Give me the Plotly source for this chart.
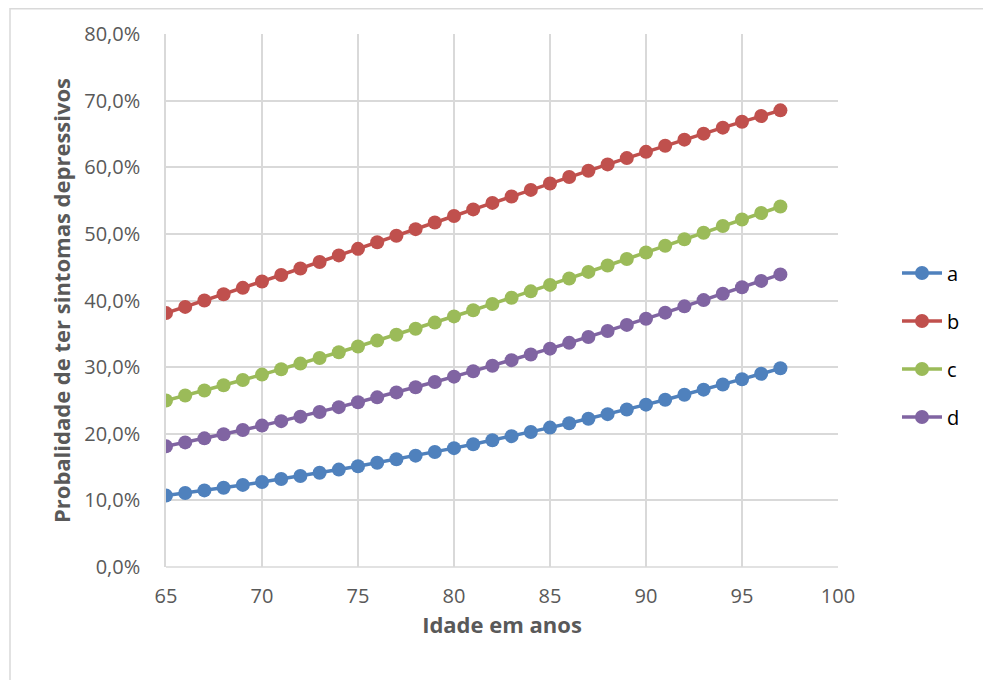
import plotly.graph_objects as go

ages = list(range(65, 98))

serie_a = [0.1072, 0.1110, 0.1150, 0.1190, 0.1232, 0.1276, 0.1320, 0.1366, 0.1414, 0.1462,
           0.1512, 0.1564, 0.1617, 0.1671, 0.1727, 0.1784, 0.1842, 0.1902, 0.1964, 0.2027,
           0.2092, 0.2158, 0.2225, 0.2294, 0.2365, 0.2437, 0.2511, 0.2586, 0.2662, 0.2740,
           0.2819, 0.2900, 0.2982]
serie_b = [0.3811, 0.3904, 0.3999, 0.4094, 0.4190, 0.4286, 0.4383, 0.4480, 0.4578, 0.4677,
           0.4775, 0.4874, 0.4972, 0.5071, 0.5170, 0.5268, 0.5367, 0.5465, 0.5562, 0.5660,
           0.5756, 0.5853, 0.5948, 0.6043, 0.6137, 0.6231, 0.6323, 0.6414, 0.6504, 0.6594,
           0.6682, 0.6769, 0.6854]
serie_c = [0.2499, 0.2574, 0.2650, 0.2728, 0.2807, 0.2888, 0.2969, 0.3053, 0.3137, 0.3223,
           0.3309, 0.3398, 0.3487, 0.3577, 0.3668, 0.3761, 0.3854, 0.3948, 0.4042, 0.4137,
           0.4234, 0.4331, 0.4429, 0.4525, 0.4623, 0.4721, 0.4822, 0.4919, 0.5018, 0.5118,
           0.5216, 0.5313, 0.5411]
serie_d = [0.1811, 0.1870, 0.1931, 0.1993, 0.2057, 0.2122, 0.2189, 0.2257, 0.2327, 0.2399,
           0.2472, 0.2546, 0.2621, 0.2698, 0.2777, 0.2857, 0.2939, 0.3021, 0.3105, 0.3190,
           0.3277, 0.3364, 0.3453, 0.3542, 0.3634, 0.3726, 0.3818, 0.3912, 0.4006, 0.4102,
           0.4198, 0.4294, 0.4392]

names = ["a", "b", "c", "d"]
series = [serie_a, serie_b, serie_c, serie_d]
colors = ["#4F81BD", "#C0504D", "#9BBB59", "#8064A2"]

FONT = "Open Sans"
GRAY = "#595959"

W, H = 983, 672
L, R, T, B = 158, 153, 26, 113
PW, PH = W - L - R, H - T - B

fig = go.Figure()
for name, vals, col in zip(names, series, colors):
    fig.add_trace(go.Scatter(
        x=ages, y=vals, name=name, mode="lines+markers",
        line=dict(color=col, width=3.5),
        marker=dict(color=col, size=14),
        legendgroup=name,
    ))

fig.update_layout(
    width=W, height=H,
    margin=dict(l=L, r=R, t=T, b=B),
    paper_bgcolor="white", plot_bgcolor="white",
    separators=",.",
    font=dict(family=FONT, color=GRAY, size=20),
    showlegend=True,
    legend=dict(x=(889 - L) / PW, y=(559 - 337) / PH, xanchor="left", yanchor="middle",
                font=dict(size=20, color="#000000", family=FONT),
                traceorder="grouped", tracegroupgap=19,
                bgcolor="rgba(0,0,0,0)", itemwidth=40),
    xaxis=dict(range=[65, 100], dtick=5, tick0=65,
               showgrid=True, gridcolor="#D9D9D9", gridwidth=1.5,
               zeroline=False, showline=False,
               ticks="", ticklabelstandoff=15,
               tickfont=dict(size=20, color=GRAY, family=FONT),
               title=dict(text="<b>Idade em anos</b>", standoff=6,
                          font=dict(size=22, color=GRAY, family=FONT))),
    yaxis=dict(range=[0, 0.8], dtick=0.1, tickformat=".1%",
               showgrid=True, gridcolor="#D9D9D9", gridwidth=1.5,
               zeroline=False, showline=True, linecolor="#D9D9D9", linewidth=1.5,
               ticks="", ticklabelstandoff=20,
               tickfont=dict(size=20, color=GRAY, family=FONT),
               title=dict(text="<b>Probalidade de ter sintomas depressivos</b>", standoff=8,
                          font=dict(size=22, color=GRAY, family=FONT))),
)

fig.add_shape(type="line", xref="paper", yref="paper", x0=0, x1=1, y0=0, y1=0,
              line=dict(color="#D9D9D9", width=1.5), layer="below")
# outer chart border (left and top edges visible)
fig.add_shape(type="rect", xref="paper", yref="paper",
              x0=(2 - L) / PW, x1=(W + 20 - L) / PW,
              y0=(H - T - B + T - (H + 20)) / PH, y1=(H - B - 0.75) / PH,
              line=dict(color="#D9D9D9", width=1.5), fillcolor="rgba(0,0,0,0)")

fig.write_html("out.html")
